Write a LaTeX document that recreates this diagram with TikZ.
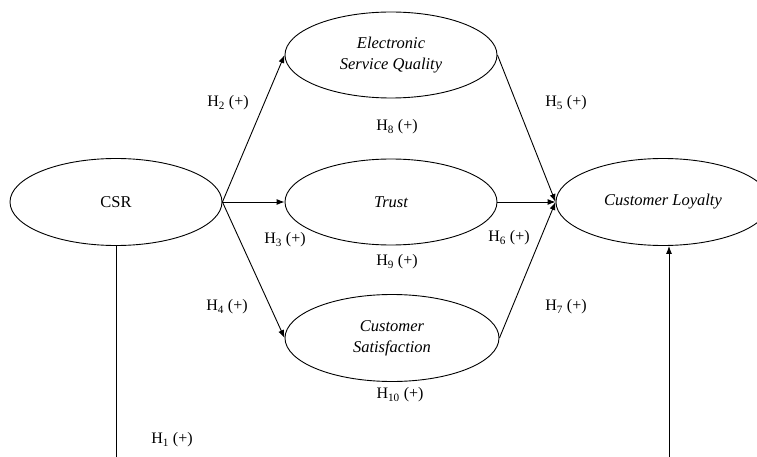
\documentclass[tikz,border=0pt]{standalone}
\usepackage{fontspec}
\setmainfont{Liberation Serif}
\usetikzlibrary{arrows.meta,shapes.geometric}
\begin{document}
\begin{tikzpicture}[x=1pt,y=-1pt,
  construct/.style={draw, line width=0.9pt, ellipse, minimum width=212, minimum height=86, align=center, font=\fontsize{16.5}{21}\selectfont\itshape, inner sep=0pt},
  path/.style={draw, line width=0.9pt, -{Latex[length=8pt,width=6pt]}},
  hyp/.style={font=\fontsize{16}{18}\selectfont, inner sep=0pt}
]
\useasboundingbox (0,0) rectangle (757,457);
\begin{scope}
\clip (0,0) rectangle (757,457);
% latent constructs
\node[construct, minimum height=87, font=\fontsize{16.5}{21}\selectfont] (csr) at (116,202) {CSR};
\node[construct] (esq) at (391,55) {Electronic\\Service Quality};
\node[construct] (trust) at (391,202) {Trust};
\node[construct, minimum height=87, minimum width=214] (cs) at (392,338) {Customer\\Satisfaction};
\node[construct, minimum height=87, minimum width=214] (cl) at (663,202) {Customer Loyalty};
% free ends of the direct CSR -> loyalty path
\coordinate (csrdown) at (116,460);
\coordinate (clup) at (669,460);
% paths
\draw[path] (csr.east) -- (esq.west);
\draw[path] (csr.east) -- (trust.west);
\draw[path] (csr.east) -- (cs.west);
\draw[path] (esq.east) -- (cl.west);
\draw[path] (trust.east) -- (cl.west);
\draw[path] (cs.east) -- (cl.west);
\draw[line width=0.9pt] (csr.south) -- (csrdown);
\draw[path] (clup) -- (cl.south -| clup);
\end{scope}
% hypothesis labels
\node[hyp] (h2) at (228,103) {H\textsubscript{2} (+)};
\node[hyp] (h8) at (397,127) {H\textsubscript{8} (+)};
\node[hyp] (h5) at (566,103) {H\textsubscript{5} (+)};
\node[hyp] (h3) at (285,240) {H\textsubscript{3} (+)};
\node[hyp] (h9) at (397,262) {H\textsubscript{9} (+)};
\node[hyp] (h6) at (509,238) {H\textsubscript{6} (+)};
\node[hyp] (h4) at (227,307) {H\textsubscript{4} (+)};
\node[hyp] (h7) at (566,307) {H\textsubscript{7} (+)};
\node[hyp] (h10) at (400,395) {H\textsubscript{10} (+)};
\node[hyp] (h1) at (172,440) {H\textsubscript{1} (+)};
\end{tikzpicture}
\end{document}
